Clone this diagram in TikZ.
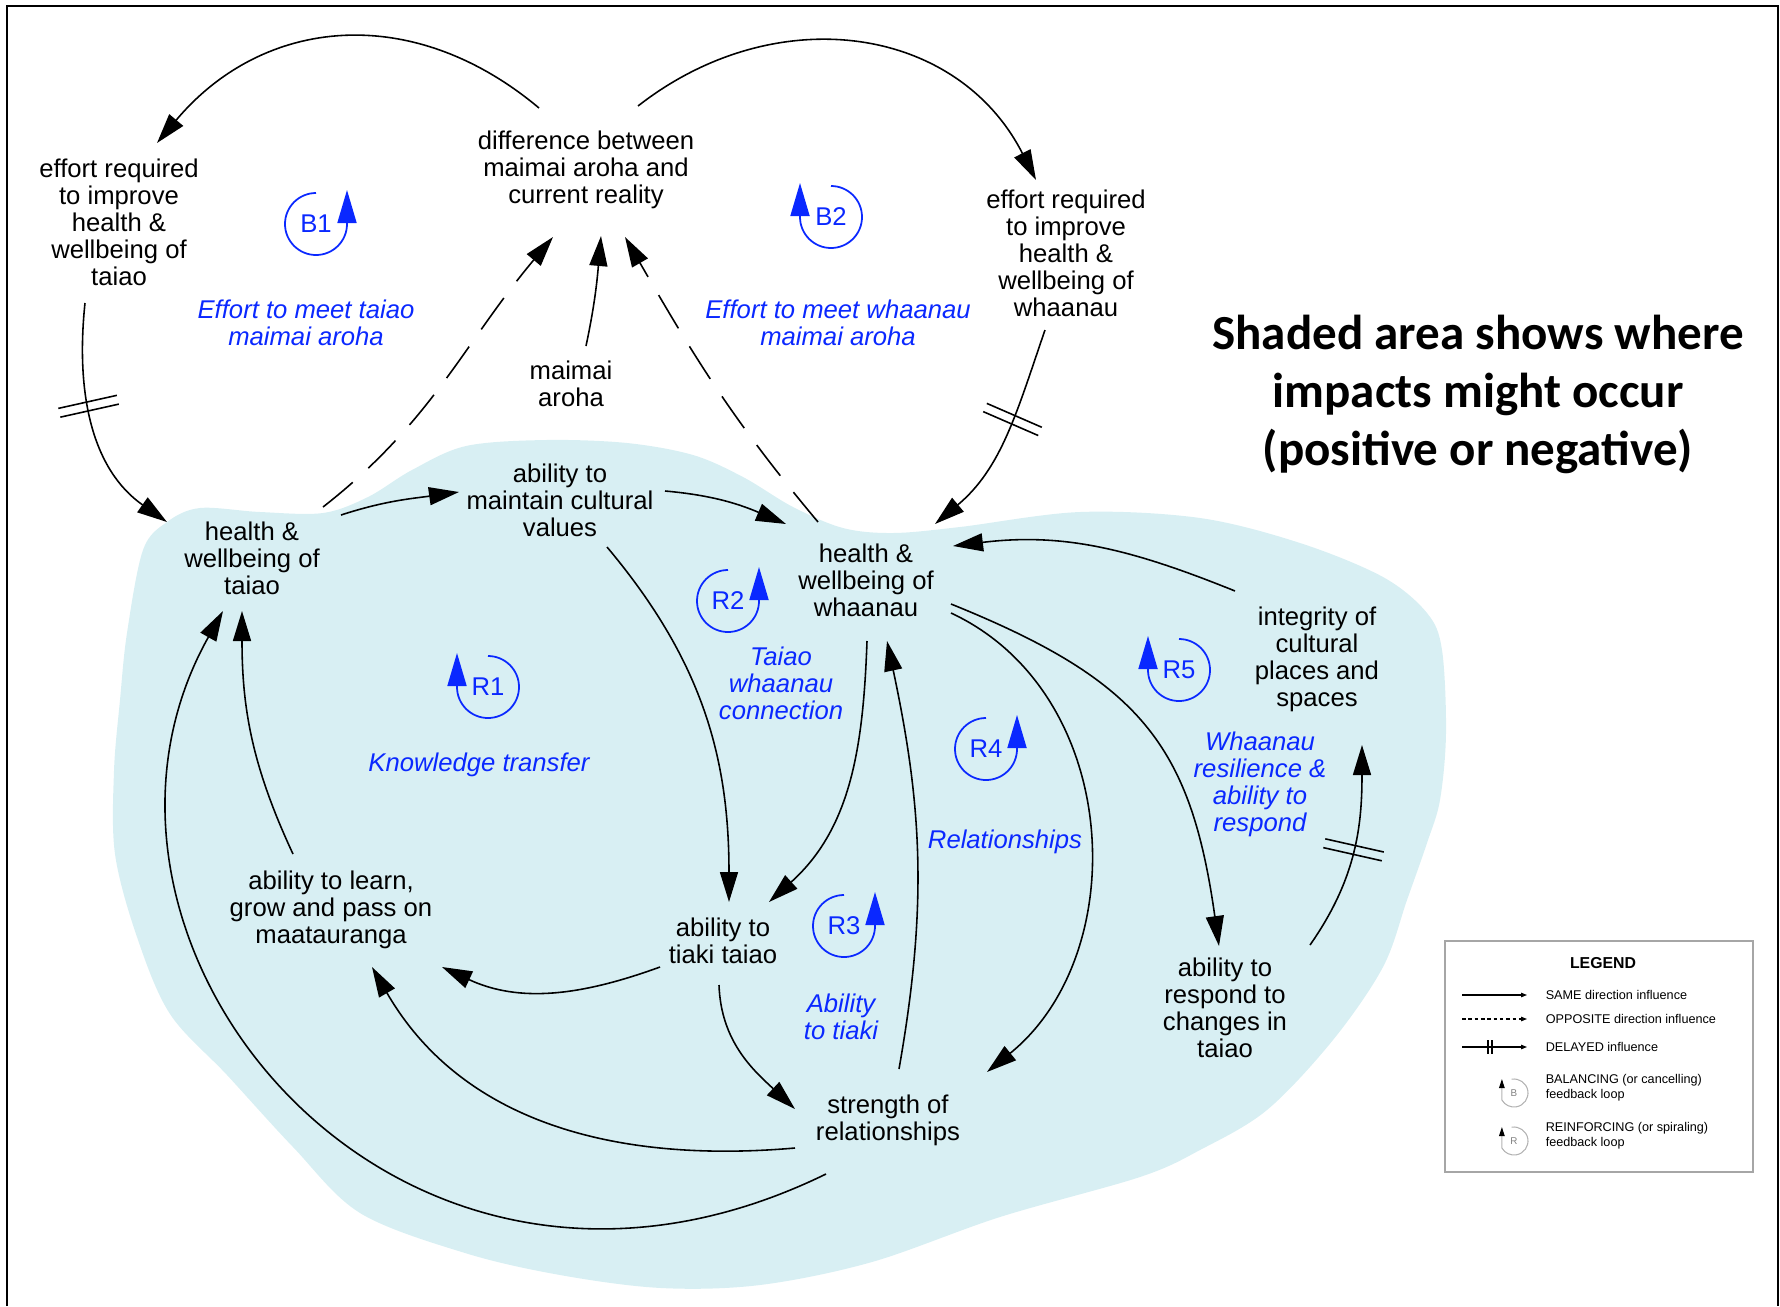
\documentclass[tikz,border=0pt]{standalone}
\usepackage{fontspec}
\setmainfont{Liberation Sans}
\newfontfamily\calfont{Carlito}
\usepackage{tikz}
\usetikzlibrary{arrows.meta,calc,decorations.markings}
\definecolor{impactbg}{RGB}{216,239,243}
\definecolor{lblue}{RGB}{10,40,255}
\tikzset{
  delayed/.style={postaction={decorate,decoration={markings,
    mark=at position #1 with {\draw[-,solid,line width=0.9pt] (-4.5,-30) -- (-4.5,30) (4.5,-30) -- (4.5,30);}}}}
}
\begin{document}
\begin{tikzpicture}[x=0.2mm,y=0.2mm,>={Triangle[length=0.6cm,width=0.36cm]},line width=0.9pt,font=\fontsize{14.6}{15.4}\selectfont]
\tikzstyle{v}=[align=center,inner sep=0pt]
\tikzstyle{lab}=[align=center,inner sep=0pt,text=lblue,font=\fontsize{14.6}{15.4}\selectfont\itshape]
\tikzstyle{lp}=[lblue,line width=1pt,-{Triangle[length=0.66cm,width=0.38cm]}]
\tikzstyle{neg}=[dash pattern=on 22pt off 12pt]
\tikzstyle{lg}=[anchor=west,inner sep=0pt,align=left,font=\fontsize{7.2}{8.5}\selectfont]
\useasboundingbox (0,0) rectangle (1780,-1306);
\fill[impactbg] plot[smooth cycle,tension=0.55] coordinates {(143,-550) (167,-522) (200,-508) (260,-512) (323,-513) (368,-497) (412,-470) (466,-446) (546,-440) (627,-443) (693,-455) (743,-477) (793,-507) (843,-528) (893,-533) (960,-527) (1080,-512) (1200,-518) (1300,-543) (1383,-577) (1427,-613) (1442,-650) (1446,-733) (1440,-800) (1427,-843) (1407,-900) (1383,-967) (1333,-1040) (1267,-1110) (1200,-1150) (1140,-1177) (1000,-1217) (872,-1262) (760,-1285) (661,-1288) (560,-1275) (465,-1253) (360,-1213) (293,-1147) (227,-1075) (170,-1014) (137,-937) (115,-854) (114,-771) (120,-700) (127,-633)};
\draw[line width=1.2pt] (7,-1306) -- (7,-6) -- (1778,-6) -- (1778,-1306);

\node[v] (effT) at (119,-222) {effort required\\to improve\\health \&\\wellbeing of\\taiao};
\node[v] (diff) at (586,-170) {difference between\\maimai aroha and\\current reality};
\node[v] (effW) at (1066,-253) {effort required\\to improve\\health \&\\wellbeing of\\whaanau};
\node[v] (maimai) at (571,-384) {maimai\\aroha};
\node[v] (hT) at (252,-558) {health \&\\wellbeing of\\taiao};
\node[v] (cult) at (560,-500) {ability to\\maintain cultural\\values};
\node[v] (hW) at (866,-580) {health \&\\wellbeing of\\whaanau};
\node[v] (integ) at (1317,-659) {integrity of\\cultural\\places and\\spaces};
\node[v] (learn) at (331,-910) {ability to learn,\\grow and pass on\\maatauranga};
\node[v] (tiaki) at (723,-941) {ability to\\tiaki taiao};
\node[v] (str) at (888,-1120) {strength of\\relationships};
\node[v] (resp) at (1225,-1008) {ability to\\respond to\\changes in\\taiao};

\node[lab] (l1) at (306,-323) {Effort to meet taiao\\maimai aroha};
\node[lab] (l2) at (838,-323) {Effort to meet whaanau\\maimai aroha};
\node[lab] (l3) at (479,-765) {Knowledge transfer};
\node[lab] (l4) at (781,-683) {Taiao\\whaanau\\connection};
\node[lab] (l5) at (1005,-842) {Relationships};
\node[lab] (l6) at (841,-1017) {Ability\\to tiaki};
\node[lab] (l7) at (1260,-784) {Whaanau\\resilience \&\\ability to\\respond};

\node[text=lblue] (b1) at (316,-224) {B1};
\node[text=lblue] (b2) at (831,-217) {B2};
\node[text=lblue] (r1) at (488,-687) {R1};
\node[text=lblue] (r2) at (728,-601) {R2};
\node[text=lblue] (r3) at (844,-926) {R3};
\node[text=lblue] (r4) at (986,-749) {R4};
\node[text=lblue] (r5) at (1179,-670) {R5};
\draw[lp] (b1.center) ++(0,31) arc[start angle=90,end angle=360,radius=31] -- ++(0,34);
\draw[lp] (b2.center) ++(0,31) arc[start angle=90,end angle=-180,radius=31] -- ++(0,34);
\draw[lp] (r1.center) ++(0,31) arc[start angle=90,end angle=-180,radius=31] -- ++(0,34);
\draw[lp] (r2.center) ++(0,31) arc[start angle=90,end angle=360,radius=31] -- ++(0,34);
\draw[lp] (r3.center) ++(0,31) arc[start angle=90,end angle=360,radius=31] -- ++(0,34);
\draw[lp] (r4.center) ++(0,31) arc[start angle=90,end angle=360,radius=31] -- ++(0,34);
\draw[lp] (r5.center) ++(0,31) arc[start angle=90,end angle=-180,radius=31] -- ++(0,34);

\node[font=\calfont\bfseries\fontsize{27.9}{33}\selectfont,align=center] (title) at (1478,-394) {Shaded area shows where\\impacts might occur\\(positive or negative)};

\draw[->] ($(diff)+(-47,62)$) to[out=140,in=50,looseness=1.1] ($(effT)+(38,79)$);
\draw[->] ($(diff)+(52,64)$) to[out=38,in=117,looseness=1.1] ($(effW)+(-30,73)$);
\draw[->,delayed=0.42] ($(effT)+(-34,-81)$) to[out=-96,in=145] ($(hT)+(-85,36)$);
\draw[->,delayed=0.42] ($(effW)+(-21,-77)$) to[out=-109,in=40] ($(hW)+(69,56)$);
\draw[->,neg] ($(hT)+(71,51)$) to[out=38,in=-130] ($(diff)+(-33,-67)$);
\draw[->,neg] ($(hW)+(-48,58)$) to[out=130,in=-60] ($(diff)+(39,-67)$);
\draw[->] ($(maimai)+(15,38)$) to[out=78,in=-95] ($(diff)+(15,-66)$);
\draw[->] ($(hT)+(89,43)$) to[out=18,in=188] ($(cult)+(-101,8)$);
\draw[->] ($(cult)+(105,9)$) to[out=-5,in=157] ($(hW)+(-80,56)$);
\draw[->] ($(cult)+(47,-47)$) to[out=-50,in=90] ($(tiaki)+(6,39)$);
\draw[->] ($(hW)+(1,-61)$) to[out=-92,in=42] ($(tiaki)+(46,39)$);
\draw[->] ($(str)+(11,51)$) to[out=80,in=-78] ($(hW)+(21,-61)$);
\draw[->] ($(hW)+(85,-33)$) to[out=-25,in=39,looseness=1.05] ($(str)+(99,48)$);
\draw[->] ($(hW)+(85,-24)$) to[out=-22,in=98,looseness=1.2] ($(resp)+(-6,62)$);
\draw[->,delayed=0.5] ($(resp)+(85,63)$) to[out=55,in=-90] ($(integ)+(45,-86)$);
\draw[->] ($(integ)+(-82,68)$) to[out=158,in=7] ($(hW)+(87,34)$);
\draw[->] ($(tiaki)+(-63,-26)$) to[out=-160,in=-25] ($(learn)+(111,-57)$);
\draw[->] ($(tiaki)+(-4,-44)$) to[out=-88,in=137] ($(str)+(-93,11)$);
\draw[->] ($(str)+(-93,-28)$) to[out=185,in=-60] ($(learn)+(41,-57)$);
\draw[->] ($(str)+(-62,-54)$) .. controls +(-432,-211) and +(-185,-330) .. ($(hT)+(-29,-53)$);
\draw[->] ($(learn)+(-38,56)$) to[out=115,in=-90] ($(hT)+(-10,-53)$);

\node[draw=gray!70,line width=0.8pt,minimum width=6.16cm,minimum height=4.62cm] (legend) at (1599,-1056.5) {};
\node[font=\fontsize{9}{10}\selectfont\bfseries] (legT) at (1603,-963) {LEGEND};
\node[lg] (same) at (1545,-995) {SAME direction influence};
\node[lg] (opp) at (1545,-1019) {OPPOSITE direction influence};
\node[lg] (dly) at (1545,-1047) {DELAYED influence};
\node[lg] (bal) at (1545,-1088) {BALANCING (or cancelling)\\feedback loop};
\node[lg] (rein) at (1545,-1136) {REINFORCING (or spiraling)\\feedback loop};
\draw[line width=0.6pt,-{Triangle[length=1.2mm,width=0.9mm]}] (1462,-995) -- (same.west -| 1527,0);
\draw[line width=0.6pt,dash pattern=on 2pt off 1.6pt,-{Triangle[length=1.2mm,width=0.9mm]}] (1462,-1019) -- (opp.west -| 1527,0);
\draw[line width=0.6pt,-{Triangle[length=1.2mm,width=0.9mm]}] (1462,-1047) -- (dly.west -| 1527,0);
\draw[line width=0.6pt] (1488,-1040) -- (1488,-1054) (1492,-1040) -- (1492,-1054);
\node[text=gray,font=\fontsize{5.6}{6}\selectfont] (lb) at (1514,-1093) {B};
\node[text=gray,font=\fontsize{5.6}{6}\selectfont] (lr) at (1514,-1141) {R};
\draw[gray!60,line width=0.6pt,-{Triangle[length=1.8mm,width=1.1mm,black]}] (lb.center) ++(100:14) arc[start angle=100,end angle=-150,radius=14] -- ++(0,21);
\draw[gray!60,line width=0.6pt,-{Triangle[length=1.8mm,width=1.1mm,black]}] (lr.center) ++(100:14) arc[start angle=100,end angle=-150,radius=14] -- ++(0,21);
\end{tikzpicture}
\end{document}
